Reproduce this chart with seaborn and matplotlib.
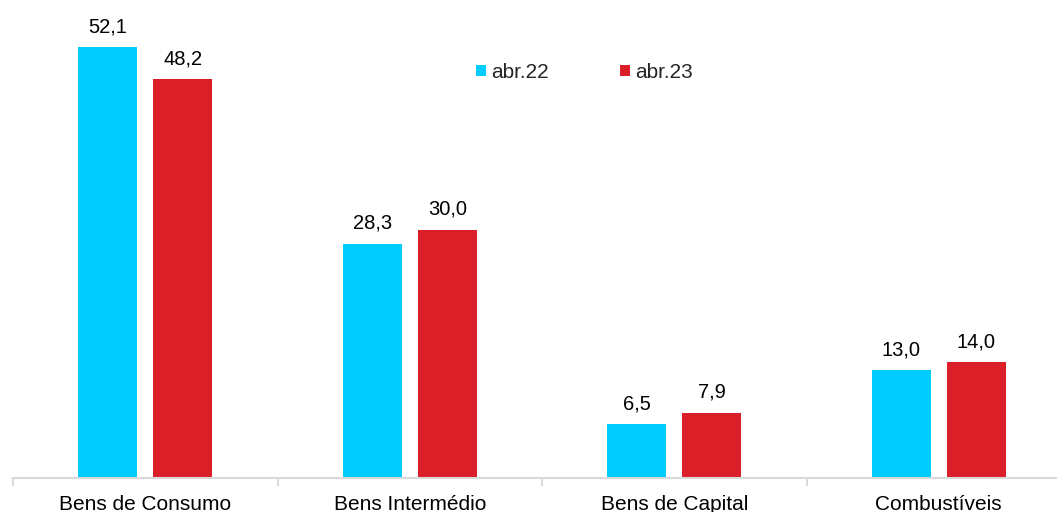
import pandas as pd
import matplotlib
matplotlib.use("Agg")
import matplotlib.pyplot as plt
from matplotlib.patches import Patch
import seaborn as sns

# data
categories = ['Bens de Consumo', 'Bens Intermédio', 'Bens de Capital', 'Combustíveis']
periods = ['abr.22', 'abr.23']
values_22 = [52.1, 28.3, 6.5, 13.0]
values_23 = [48.2, 30.0, 7.9, 14.0]
colors = ['#00CCFF', '#DA1F28']

df = pd.DataFrame({
    'Categoria': categories * 2,
    'Periodo': [periods[0]] * 4 + [periods[1]] * 4,
    'Valor': values_22 + values_23,
})

sns.set_style('white')
plt.rcParams['font.family'] = ['Liberation Sans', 'DejaVu Sans']

fig = plt.figure(figsize=(10.57, 5.12), dpi=100)
ax = fig.add_axes([13 / 1057, 34 / 512, 1058 / 1057, 478 / 512])

sns.barplot(data=df, x='Categoria', y='Valor', hue='Periodo',
            palette=colors, width=0.567, gap=0.213, linewidth=0,
            saturation=1, ax=ax)

# value labels with decimal comma
for cont in ax.containers:
    labs = [f'{b.get_height():.1f}'.replace('.', ',') for b in cont]
    ax.bar_label(cont, labels=labs, padding=8, fontsize=14.5, color='black')

ax.set_xlim(-0.5, 3.5)
ax.set_ylim(0, 57.8)
ax.set_xlabel('')
ax.set_ylabel('')
ax.set_yticks([])
for s in ['left', 'top', 'right']:
    ax.spines[s].set_visible(False)
ax.spines['bottom'].set_color('#D9D9D9')
ax.spines['bottom'].set_linewidth(1.5)

ax.set_xticks([-0.5, 0.5, 1.5, 2.5, 3.5], minor=True)
ax.tick_params(axis='x', which='minor', length=6, width=1.5, color='#D9D9D9', bottom=True)
ax.tick_params(axis='x', which='major', length=0, pad=12, labelsize=15, labelcolor='black')

if ax.get_legend() is not None:
    ax.get_legend().remove()

handles = [Patch(facecolor=c, edgecolor='none') for c in colors]
fig.legend(handles, periods, loc='center left', bbox_to_anchor=(476 / 1057, 1 - 72.5 / 512),
           ncol=2, frameon=False, fontsize=15, handlelength=0.48, handleheight=0.48,
           handletextpad=0.25, columnspacing=3.4, borderpad=0, borderaxespad=0)

fig.savefig('out.png', dpi=100)
